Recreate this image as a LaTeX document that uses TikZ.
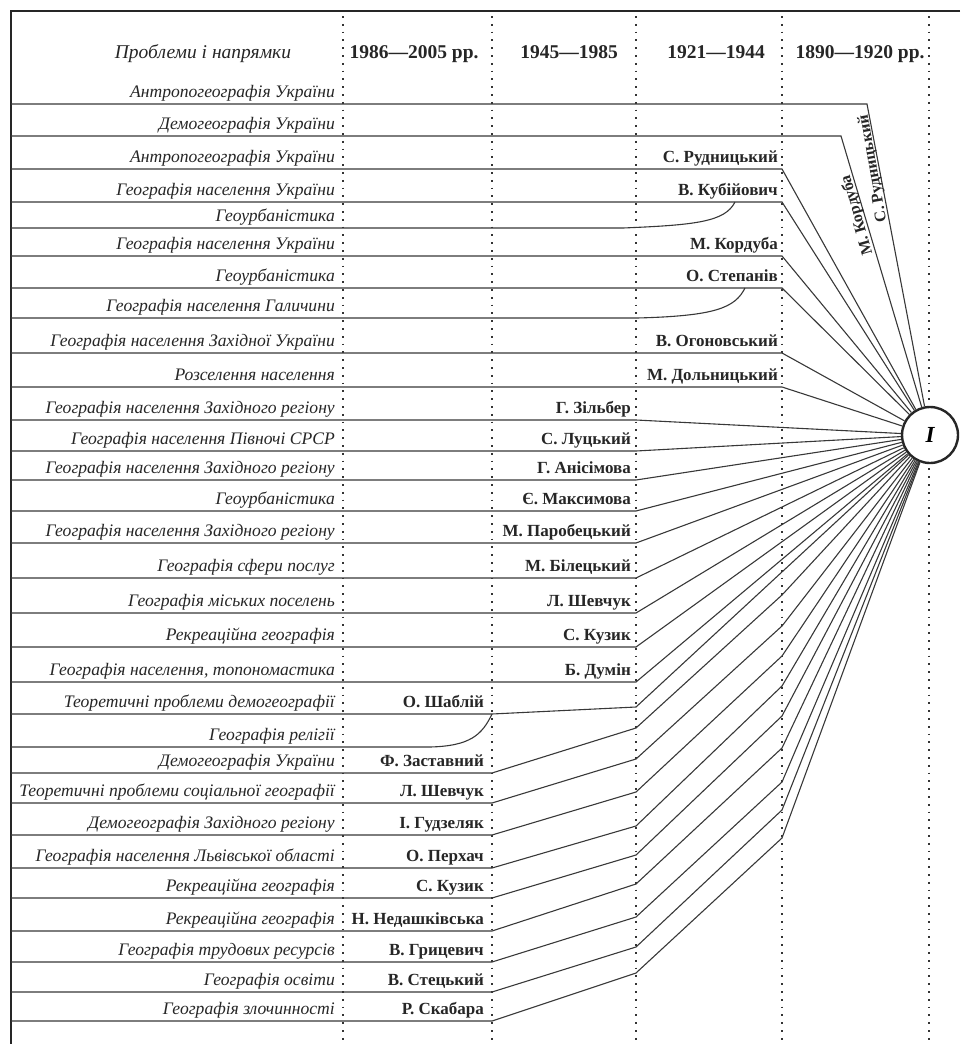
\documentclass[tikz,border=0pt]{standalone}
\usepackage{fontspec}
\setmainfont{Liberation Serif}
\begin{document}
\begin{tikzpicture}[x=1pt,y=-1pt,
  row/.style={line width=1.1pt, draw=black!78},
  dots/.style={line width=1.7pt, draw=black!80, dash pattern=on 1.8pt off 6pt},
  lab/.style={anchor=base east, inner sep=0pt, text=black!85, font=\itshape\fontsize{17.6}{17.6}\selectfont},
  nm/.style={anchor=base east, inner sep=0pt, text=black!85, font=\bfseries\fontsize{17}{17}\selectfont},
  rnm/.style={anchor=base, inner sep=0pt, text=black!85, font=\bfseries\fontsize{16}{16}\selectfont},
  hd/.style={anchor=base, inner sep=0pt, text=black!85, font=\bfseries\fontsize{19.5}{19.5}\selectfont},
  frame/.style={line width=2.8pt, draw=black!85}]
\useasboundingbox (0,0) rectangle (968,1044);
% frame
\coordinate (tl) at (11,11);
\coordinate (tr) at (960,11);
\coordinate (bl) at (11,1044);
\draw[frame] (tr) -- (tl) -- (bl);
% dotted column separators
\foreach \x in {343,492,636,782,929} {
  \draw[dots] (\x,16) -- (\x,1044);
}
% headers
\node[hd, font=\itshape\fontsize{19.5}{19.5}\selectfont] (h0) at (203,58) {Проблеми і напрямки};
\node[hd] (h1) at (414,58) {1986—2005 рр.};
\node[hd] (h2) at (569,58) {1945—1985};
\node[hd] (h3) at (716,58) {1921—1944};
\node[hd] (h4) at (860,58) {1890—1920 рр.};
% central circle
\node[circle, draw=black!85, line width=2.4pt, fill=white, minimum size=56pt, inner sep=0pt,
      font=\bfseries\itshape\fontsize{23}{23}\selectfont] (I) at (930,435) {I};
% type A: horizontal then straight to circle
\foreach \n/\y/\cx in {1/104/867, 2/136/841, 3/169/782, 4/202/782, 6/256/782, 7/288/782,
   9/353/782, 10/387/782, 11/420/636, 12/451/636, 13/480/636, 14/511/636, 15/543/636,
   16/578/636, 17/613/636, 18/647/636, 19/682/636} {
  \coordinate (s\n) at (11,\y);
  \coordinate (k\n) at (\cx,\y);
  \draw[row] (s\n) -- (k\n) -- (I);
}
% type B
\coordinate (s20) at (11,714);
\coordinate (a20) at (492,714);
\coordinate (b20) at (636,707);
\draw[row] (s20) -- (a20) -- (b20) -- (I);
% type C
\foreach \n/\y/\ya/\yb in {22/773/728/595, 23/803/759/626, 24/835/792/656, 25/868/826/686,
   26/898/855/716, 27/931/884/748, 28/962/917/782, 29/992/947/810, 30/1021/973/838} {
  \coordinate (s\n) at (11,\y);
  \coordinate (a\n) at (492,\y);
  \coordinate (b\n) at (636,\ya);
  \coordinate (c\n) at (782,\yb);
  \draw[row] (s\n) -- (a\n) -- (b\n) -- (c\n) -- (I);
}
% merging curves
\coordinate (s5) at (11,228);
\coordinate (m5) at (735,202);
\draw[row] (s5) -- (623,228) .. controls (695,225) and (725,222) .. (m5);
\coordinate (s8) at (11,318);
\coordinate (m8) at (745,288);
\draw[row] (s8) -- (637,318) .. controls (715,316) and (735,308) .. (m8);
\coordinate (s21) at (11,747);
\draw[row] (s21) -- (430,747) .. controls (470,746) and (482,735) .. (a20);
% left labels
\foreach \n/\y/\t in {
  1/104/{Антропогеографія України},
  2/136/{Демогеографія України},
  3/169/{Антропогеографія України},
  4/202/{Географія населення України},
  5/228/{Геоурбаністика},
  6/256/{Географія населення України},
  7/288/{Геоурбаністика},
  8/318/{Географія населення Галичини},
  9/353/{Географія населення Західної України},
  10/387/{Розселення населення},
  11/420/{Географія населення Західного регіону},
  12/451/{Географія населення Півночі СРСР},
  13/480/{Географія населення Західного регіону},
  14/511/{Геоурбаністика},
  15/543/{Географія населення Західного регіону},
  16/578/{Географія сфери послуг},
  17/613/{Географія міських поселень},
  18/647/{Рекреаційна географія},
  19/682/{Географія населення, топономастика},
  20/714/{Теоретичні проблеми демогеографії},
  21/747/{Географія релігії},
  22/773/{Демогеографія України},
  23/803/{Теоретичні проблеми соціальної географії},
  24/835/{Демогеографія Західного регіону},
  25/868/{Географія населення Львівської області},
  26/898/{Рекреаційна географія},
  27/931/{Рекреаційна географія},
  28/962/{Географія трудових ресурсів},
  29/992/{Географія освіти},
  30/1021/{Географія злочинності}} {
  \node[lab] (L\n) at (335,\y-7) {\t};
}
% names
\foreach \n/\y/\x/\t in {
  3/169/778/{С. Рудницький},
  4/202/778/{В. Кубійович},
  6/256/778/{М. Кордуба},
  7/288/778/{О. Степанів},
  9/353/778/{В. Огоновський},
  10/387/778/{М. Дольницький},
  11/420/631/{Г. Зільбер},
  12/451/631/{С. Луцький},
  13/480/631/{Г. Анісімова},
  14/511/631/{Є. Максимова},
  15/543/631/{М. Паробецький},
  16/578/631/{М. Білецький},
  17/613/631/{Л. Шевчук},
  18/647/631/{С. Кузик},
  19/682/631/{Б. Думін},
  20/714/484/{О. Шаблій},
  22/773/484/{Ф. Заставний},
  23/803/484/{Л. Шевчук},
  24/835/484/{І. Гудзеляк},
  25/868/484/{О. Перхач},
  26/898/484/{С. Кузик},
  27/931/484/{Н. Недашківська},
  28/962/484/{В. Грицевич},
  29/992/484/{В. Стецький},
  30/1021/484/{Р. Скабара}} {
  \node[nm] (N\n) at (\x,\y-7) {\t};
}
% rotated names on the top two connectors
\node[rnm, rotate=100] (R1) at (877,168) {С. Рудницький};
\node[rnm, rotate=106] (R2) at (861,214) {М. Кордуба};
\end{tikzpicture}
\end{document}
